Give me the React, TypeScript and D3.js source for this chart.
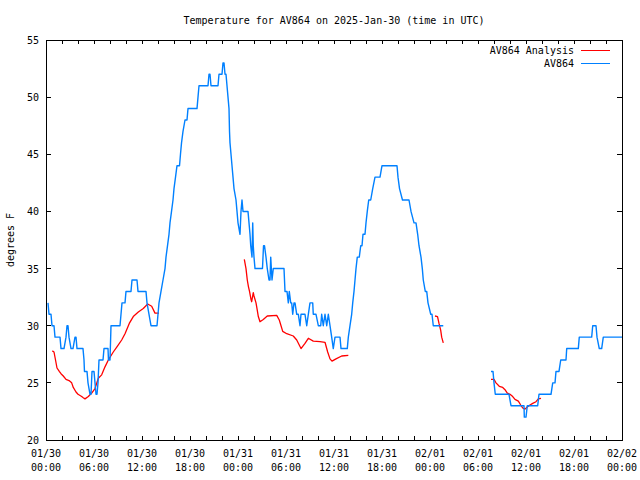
import React from "react";
import * as d3 from "d3";

const TITLE = "Temperature for AV864 on 2025-Jan-30 (time in UTC)";
const Y_LABEL = "degrees F";
const START = Date.UTC(2025, 0, 30);
const END = Date.UTC(2025, 1, 2);
const Y_DOMAIN = [20, 55];
const yTicks = [20, 25, 30, 35, 40, 45, 50, 55];
const seriesNames = ["AV864 Analysis", "AV864"];
const seriesColors = ["#ff0000", "#0080ff"];

// hours after 2025-01-30 00:00 UTC; null temperature = gap in record
const analysisHours = [
  0.79, 1.0, 1.19, 1.375, 1.66, 1.875, 2.16, 2.5, 2.875, 3.21, 3.41, 3.75, 4.0, 4.46, 4.66, 4.875, 5.29, 5.71,
  6.125, 6.54, 6.96, 7.375, 7.79, 8.41, 8.91, 9.46, 9.875, 10.41, 10.91, 11.54, 12.16, 12.71, 13.21, 13.625, 14.125,
  20,
  24.79, 25.0, 25.16, 25.31, 25.44, 25.625, 25.71, 25.91, 26.0, 26.25, 26.375, 26.54, 26.75, 27.16, 27.66, 28.84,
  29.16, 29.59, 30.09, 30.91, 31.34, 31.875, 32.375, 32.79, 33.41, 34.25, 34.875, 35.21, 35.5, 35.75, 36.25, 36.96, 37.79,
  44,
  48.625, 48.94, 49.125, 49.34, 49.46, 49.66,
  52,
  55.625, 56.0, 56.25, 56.66, 57.09, 57.375, 57.66, 58.0, 58.34, 58.625, 59.04, 59.34, 59.59, 59.875, 60.16, 60.5,
  60.84, 61.25, 61.54, 61.875,
];
const analysisTemps = [
  27.8, 27.7, 27, 26.3, 26, 25.8, 25.6, 25.3, 25.2, 25, 24.6, 24.2, 24, 23.8, 23.7, 23.6, 23.8, 24.1,
  24.5, 25.4, 25.7, 26.4, 27, 27.7, 28.2, 28.75, 29.3, 30.2, 30.8, 31.2, 31.5, 31.9, 31.7, 31.1, 31.1,
  null,
  35.8, 35, 34, 33.4, 33, 32.3, 32.1, 32.9, 32.6, 32, 31.5, 30.8, 30.35, 30.55, 30.85, 30.9,
  30.5, 29.5, 29.3, 29.1, 28.75, 28.0, 28.45, 28.9, 28.65, 28.6, 28.55, 27.7, 27.1, 26.9, 27.1, 27.35, 27.4,
  null,
  30.85, 30.8, 30.2, 29.6, 29.0, 28.5,
  null,
  25.3, 25.3, 25.0, 24.7, 24.6, 24.4, 24.1, 24.0, 23.8, 23.55, 23.4, 23.06, 22.8, 22.7, 22.9, 23.06,
  23.2, 23.35, 23.6, 23.65,
];

const obsHours = [
  0.25, 0.375, 0.625, 0.75, 1.0, 1.125, 1.75, 1.875, 2.25, 2.5, 2.625, 2.75, 2.875, 3.125, 3.375, 3.625, 3.75, 3.875,
  4.625, 4.75, 4.81, 5.125, 5.25, 5.5, 5.625, 5.75, 6.0, 6.125, 6.25, 6.375, 6.5, 6.625, 7.125, 7.25, 7.75, 7.81,
  8.0, 8.125, 9.25, 9.375, 9.5, 9.875, 10.0, 10.625, 10.75, 11.375, 11.5, 12.5, 12.625, 12.875, 13.125, 13.875,
  14.0, 14.125, 14.375, 14.625, 14.875, 15.0, 15.19, 15.375, 15.5, 15.69, 15.875, 16.0, 16.19, 16.375, 16.69,
  16.81, 16.94, 17.125, 17.375, 17.625, 17.75, 18.875, 19.0, 19.125, 20.25, 20.375, 20.5, 20.625, 21.5, 21.625,
  22.0, 22.125, 22.25, 22.375, 22.5, 22.625, 22.75, 22.875, 22.94, 23.0, 23.125, 23.25, 23.375, 23.5, 23.75,
  23.875, 24.0, 24.25, 24.375, 24.5, 24.625, 25.25, 25.375, 25.5, 25.59, 25.75, 25.84, 25.91, 26.0, 26.125,
  27.06, 27.19, 27.31, 27.5, 27.66, 27.875, 28.0, 28.09, 28.25, 28.41, 29.75, 29.875, 30.125, 30.29, 30.41,
  30.59, 30.71, 30.84, 31.0, 31.125, 31.34, 31.54, 31.75, 31.875, 32.375, 32.59, 32.79, 33.0, 33.34, 33.41,
  33.75, 34.04, 34.34, 34.46, 34.66, 34.875, 35.09, 35.29, 35.5, 35.71, 35.91, 36.125, 36.75, 36.875, 37.66,
  37.79, 38.0, 38.21, 38.34, 38.5, 38.625, 38.75, 38.91, 39.16, 39.34, 39.5, 39.625, 39.875, 40.0, 40.16,
  40.34, 40.59, 40.84, 41.125, 41.75, 42.0, 43.875, 44.0, 44.19, 44.56, 45.375, 45.625, 46.0, 46.25, 46.46,
  46.625, 46.875, 47.04, 47.16, 47.41, 47.59, 47.75, 48.09, 48.25, 48.41, 49.66,
  52,
  55.625, 55.875, 56.0, 56.16, 57.875, 58.125, 59.75, 59.79, 60.0, 60.16, 61.46, 61.625, 63.125, 63.34, 63.625,
  63.75, 64.125, 64.34, 65.0, 65.09, 66.54, 66.66, 68.21, 68.34, 68.75, 68.875, 69.16, 69.46, 69.66, 72,
];
const obsTemps = [
  32, 31, 31, 30, 30, 29, 29, 28, 28, 29, 30, 30, 29, 28, 28, 29, 29, 28,
  28, 27, 26, 26, 25, 24, 24, 26, 26, 25, 24, 24, 25, 27, 27, 28, 28, 27,
  27, 30, 30, 31, 32, 32, 33, 33, 34, 34, 33, 33, 32, 31, 30, 30,
  31, 32, 33, 34, 35, 36, 37, 38, 39, 40, 41, 42, 43, 44, 44,
  45, 46, 47, 48, 48, 49, 49, 50, 51, 51, 52, 52, 51, 51, 52,
  52, 53, 53, 52, 52, 51, 50, 49, 47, 46, 45, 44, 43, 42, 41,
  40, 39, 38, 40, 41, 40, 40, 39, 38, 37, 36, 39, 37, 36, 35,
  35, 37, 37, 36, 35, 34, 34, 36, 34, 35, 35, 33, 33, 32, 33,
  32, 32, 31, 32, 32, 31, 31, 30, 31, 31, 30, 31, 32, 32, 31,
  31, 30, 30, 31, 30, 31, 30, 31, 30, 29, 28, 29, 29, 28, 28,
  29, 30, 31, 32, 33, 34, 35, 36, 36, 37, 37, 38, 38, 39, 40,
  41, 41, 42, 43, 43, 44, 44, 43, 42, 41, 41, 40, 39, 39, 38,
  37, 36, 35, 34, 33, 33, 32, 31, 31, 30, 30,
  null,
  26, 26, 25, 24, 24, 23, 23, 22, 22, 23, 23, 24, 24, 25, 25,
  26, 26, 27, 27, 28, 28, 29, 29, 30, 30, 29, 28, 28, 29, 29,
];

const W = 640;
const H = 480;
const M = { left: 46, right: 622, top: 40, bottom: 440 };
const FONT = "'DejaVu Sans Mono', 'Liberation Mono', monospace";

export default function App() {
  const x = d3.scaleUtc().domain([new Date(START), new Date(END)]).range([M.left, M.right]);
  const y = d3.scaleLinear().domain(Y_DOMAIN).range([M.bottom, M.top]);
  const toDate = (h: number) => new Date(START + h * 3600 * 1000);

  const line = d3
    .line<[number, number | null]>()
    .defined((d) => d[1] !== null)
    .x((d) => x(toDate(d[0])))
    .y((d) => y(d[1] as number));

  const analysis = analysisHours.map((h, i) => [h, analysisTemps[i]] as [number, number | null]);
  const obs = obsHours.map((h, i) => [h, obsTemps[i]] as [number, number | null]);

  const minorTicks = d3.utcHour.every(2)!.range(new Date(START), new Date(END + 1));
  const majorTicks = d3.utcHour.every(6)!.range(new Date(START), new Date(END + 1));
  const fmtDay = d3.utcFormat("%m/%d");
  const fmtTime = d3.utcFormat("%H:%M");

  const legendY = [50, 63];

  return (
    <svg
      width={W}
      height={H}
      style={{ position: "absolute", left: 0, top: 0, background: "#fff" }}
      fontFamily={FONT}
      fontSize={10}
    >
      <rect x={0} y={0} width={W} height={H} fill="#fff" />
      <text x={(M.left + M.right) / 2} y={24} textAnchor="middle" fill="#000">
        {TITLE}
      </text>

      {/* ticks */}
      <g stroke="#000" strokeWidth={1} shapeRendering="crispEdges">
        {minorTicks.map((t, i) => (
          <g key={"xt" + i}>
            <line x1={x(t)} x2={x(t)} y1={M.bottom} y2={M.bottom - 4} />
            <line x1={x(t)} x2={x(t)} y1={M.top} y2={M.top + 4} />
          </g>
        ))}
        {yTicks.map((v) => (
          <g key={"yt" + v}>
            <line x1={M.left} x2={M.left + 5} y1={y(v)} y2={y(v)} />
            <line x1={M.right} x2={M.right - 5} y1={y(v)} y2={y(v)} />
          </g>
        ))}
      </g>

      {yTicks.map((v) => (
        <text key={"yl" + v} x={39} y={y(v) + 4} textAnchor="end" fill="#000">
          {v}
        </text>
      ))}
      {majorTicks.map((t, i) => (
        <g key={"xl" + i}>
          <text x={x(t)} y={457} textAnchor="middle" fill="#000">
            {fmtDay(t)}
          </text>
          <text x={x(t)} y={471} textAnchor="middle" fill="#000">
            {fmtTime(t)}
          </text>
        </g>
      ))}
      <text transform={`translate(14,${(M.top + M.bottom) / 2}) rotate(-90)`} textAnchor="middle" fill="#000">
        {Y_LABEL}
      </text>

      {/* series */}
      <path d={line(analysis) || ""} fill="none" stroke={seriesColors[0]} strokeWidth={1.3} strokeLinejoin="round" />
      <path d={line(obs) || ""} fill="none" stroke={seriesColors[1]} strokeWidth={1.4} strokeLinejoin="round" />

      {/* legend */}
      {seriesNames.map((n, i) => (
        <g key={n}>
          <text x={574} y={legendY[i] + 4} textAnchor="end" fill="#000">
            {n}
          </text>
          <line
            x1={581}
            x2={610}
            y1={legendY[i]}
            y2={legendY[i]}
            stroke={seriesColors[i]}
            strokeWidth={1}
            shapeRendering="crispEdges"
          />
        </g>
      ))}

      <rect
        x={M.left}
        y={M.top}
        width={M.right - M.left}
        height={M.bottom - M.top}
        fill="none"
        stroke="#000"
        strokeWidth={1}
        shapeRendering="crispEdges"
      />
    </svg>
  );
}
